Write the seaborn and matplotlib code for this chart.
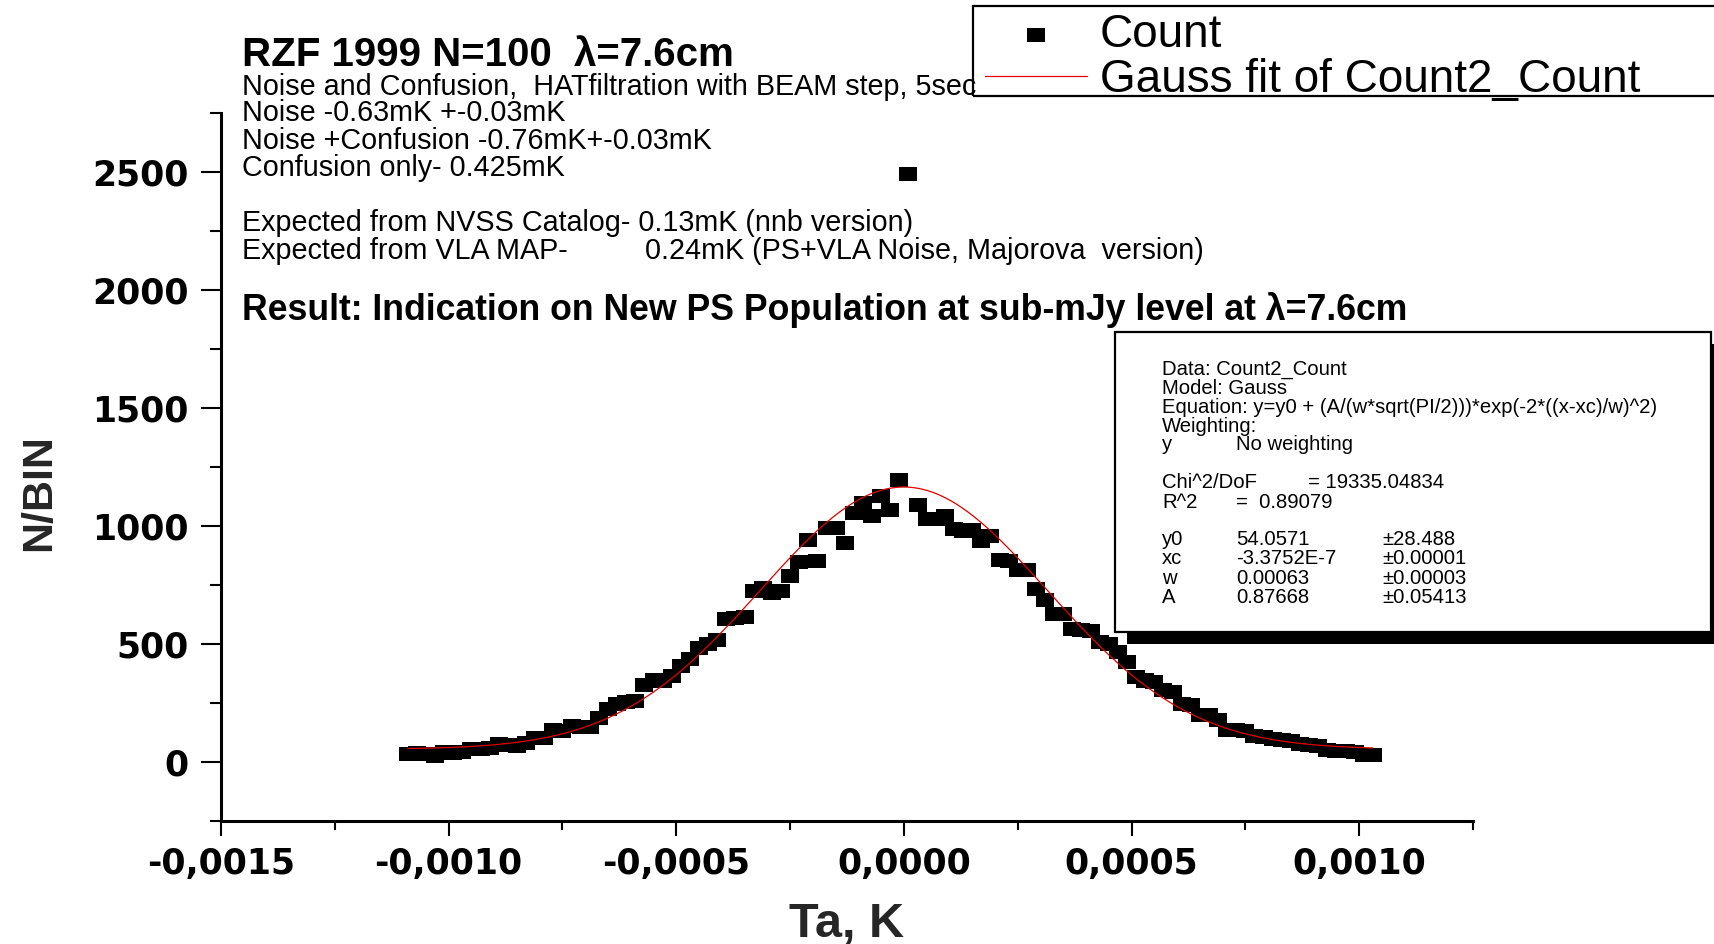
import numpy as np
import pandas as pd
import matplotlib
matplotlib.use("Agg")
import matplotlib.pyplot as plt
import seaborn as sns
from matplotlib.patches import Rectangle
from matplotlib.path import Path
from matplotlib.ticker import MultipleLocator, FuncFormatter

W, H = 1714, 944

# ---- data (bin centres in units of 1e-5 K, counts per bin) ----
ta_1e5 = [-109, -107, -105, -103, -101, -99, -97, -95, -93, -91, -89, -87, -85, -83,
          -81, -79, -77, -75, -73, -71, -69, -67, -65, -63, -61, -59, -57, -55, -53,
          -51, -49, -47, -45, -43, -41, -39, -37, -35, -33, -31, -29, -27, -25, -23,
          -21, -19, -17, -15, -13, -11, -9, -7, -5, -3, -1, 1, 3, 5, 7, 9, 11, 13, 15,
          17, 19, 21, 23, 25, 27, 29, 31, 33, 35, 37, 39, 41, 43, 45, 47, 49, 51, 53,
          55, 57, 59, 61, 63, 65, 67, 69, 71, 73, 75, 77, 79, 81, 83, 85, 87, 89, 91,
          93, 95, 97, 99, 101, 103]
counts = [34, 36, 33, 25, 41, 40, 44, 53, 55, 58, 74, 70, 68, 80, 102, 100, 136, 130,
          152, 150, 148, 186, 225, 244, 256, 260, 328, 345, 345, 366, 406, 434, 482, 498,
          515, 606, 610, 614, 722, 738, 715, 724, 786, 847, 939, 850, 992, 992, 928, 1055,
          1097, 1040, 1125, 1067, 1196, 2490, 1089, 1030, 1030, 1041, 985, 980, 982, 935,
          958, 854, 850, 811, 811, 733, 684, 628, 628, 564, 560, 555, 508, 500, 465, 423,
          360, 345, 340, 303, 295, 246, 240, 201, 198, 176, 136, 134, 130, 112, 106, 98,
          94, 90, 77, 72, 66, 49, 47, 45, 44, 28, 28]

# Gauss fit parameters (as printed in the chart)
fit_y0 = 54.0571
fit_xc = -3.3752e-7
fit_w = 0.00063
fit_A = 0.87668

sns.set_theme(style="ticks")
plt.rcParams['font.family'] = ['Liberation Sans', 'DejaVu Sans']

fig = plt.figure(figsize=(W / 100, H / 100), dpi=100)
ax = fig.add_axes([221 / W, 1 - 821 / H, (1473 - 221) / W, (821 - 112.6) / H])

df = pd.DataFrame({"Ta": np.array(ta_1e5) * 1e-5, "N": counts})
rect = Path([(-9, -7), (9, -7), (9, 7), (-9, 7), (-9, -7)],
            [Path.MOVETO, Path.LINETO, Path.LINETO, Path.LINETO, Path.CLOSEPOLY])
sns.scatterplot(data=df, x="Ta", y="N", marker=rect, s=168, color="black",
                edgecolor="none", linewidth=0, ax=ax, label="Count", zorder=2)

xf = np.linspace(df["Ta"].min(), df["Ta"].max(), 500)
yf = fit_y0 + fit_A / (fit_w * np.sqrt(np.pi / 2)) * np.exp(-2 * ((xf - fit_xc) / fit_w) ** 2)
sns.lineplot(x=xf, y=yf, color="#e00000", linewidth=0.9, ax=ax,
             label="Gauss fit of Count2_Count", zorder=3)

ax.set_xlim(-0.0015, 0.00125)
ax.set_ylim(-250, 2750)
ax.xaxis.set_major_locator(MultipleLocator(0.0005))
ax.xaxis.set_minor_locator(MultipleLocator(0.00025))
ax.yaxis.set_major_locator(MultipleLocator(500))
ax.yaxis.set_minor_locator(MultipleLocator(250))


def xfmt(v, p):
    if abs(v) < 1e-12:
        v = 0.0
    return f"{v:.4f}".replace(".", ",")


ax.xaxis.set_major_formatter(FuncFormatter(xfmt))
ax.yaxis.set_major_formatter(FuncFormatter(lambda v, p: f"{int(round(v))}"))

for side in ["top", "right"]:
    ax.spines[side].set_visible(False)
for side in ["left", "bottom"]:
    ax.spines[side].set_linewidth(2.2)
    ax.spines[side].set_color("black")

ax.tick_params(axis="x", which="major", length=10.8, width=1.5, direction="out",
               labelsize=25, pad=7.6, colors="black")
ax.tick_params(axis="x", which="minor", length=6.5, width=1.5, direction="out", colors="black")
ax.tick_params(axis="y", which="major", length=14.4, width=1.5, direction="out",
               labelsize=25, pad=9, colors="black")
ax.tick_params(axis="y", which="minor", length=8, width=1.5, direction="out", colors="black")
for lab in ax.get_xticklabels() + ax.get_yticklabels():
    lab.set_fontfamily("DejaVu Sans")
    lab.set_fontweight("bold")

ax.set_xlabel("Ta, K", fontsize=35, fontweight="bold")
ax.set_ylabel("N/BIN", fontsize=31, fontweight="bold")
ax.xaxis.label.set_va("baseline")
ax.yaxis.label.set_va("center")
ax.xaxis.set_label_coords((847 - 221) / (1473 - 221), (821 - 937) / (821 - 112.6))
ax.yaxis.set_label_coords((39 - 221) / (1473 - 221), (821 - 493) / (821 - 112.6))

# legend
handles, labels = ax.get_legend_handles_labels()
if ax.get_legend() is not None:
    ax.get_legend().remove()
leg = fig.legend(handles, labels, loc="upper left", bbox_to_anchor=(985 / W, 1 - 13 / H),
                 bbox_transform=fig.transFigure, frameon=False, fontsize=33,
                 borderaxespad=0, borderpad=0, handlelength=2.23, handletextpad=0.27,
                 labelspacing=0.03, markerscale=1.0)
for t in leg.get_texts():
    t.set_color("black")
fig.add_artist(Rectangle((973 / W, 1 - 96 / H), (1730 - 973) / W, (96 - 5.5) / H,
                         transform=fig.transFigure, fill=False, edgecolor="black",
                         linewidth=1.6, zorder=4))


def ftext(x, y, s, **kw):
    kw.setdefault("va", "baseline")
    kw.setdefault("ha", "left")
    fig.text(x / W, 1 - y / H, s, color="black", **kw)


# annotations
ftext(241.6, 66.5, "RZF 1999 N=100  λ=7.6cm", fontsize=29, fontweight="bold")
ftext(241.6, 95, "Noise and Confusion,  HATfiltration with BEAM step, 5sec", fontsize=20.7)
ftext(241.6, 121.2, "Noise -0.63mK +-0.03mK", fontsize=20.7)
ftext(241.6, 148.6, "Noise +Confusion -0.76mK+-0.03mK", fontsize=20.7)
ftext(241.6, 176.5, "Confusion only- 0.425mK", fontsize=20.7)
ftext(241.6, 231, "Expected from NVSS Catalog- 0.13mK (nnb version)", fontsize=20.7)
ftext(241.6, 258.5, "Expected from VLA MAP-", fontsize=20.7)
ftext(645, 258.5, "0.24mK (PS+VLA Noise, Majorova  version)", fontsize=20.7)
ftext(241.6, 320.5, "Result: Indication on New PS Population at sub-mJy level at λ=7.6cm",
      fontsize=25.7, fontweight="bold")

# fit statistics box
fig.add_artist(Rectangle((1127 / W, 1 - 644 / H), (1730 - 1127) / W, (644 - 344) / H,
                         transform=fig.transFigure, facecolor="black", edgecolor="black",
                         linewidth=0, zorder=4))
fig.add_artist(Rectangle((1115 / W, 1 - 632 / H), (1711 - 1115) / W, (632 - 332) / H,
                         transform=fig.transFigure, facecolor="white", edgecolor="black",
                         linewidth=1.6, zorder=5))

fs = 14.6
stats_rows = [
    (374.5, [(1162, "Data: Count2_Count")]),
    (393.5, [(1162, "Model: Gauss")]),
    (413, [(1162, "Equation: y=y0 + (A/(w*sqrt(PI/2)))*exp(-2*((x-xc)/w)^2)")]),
    (431.5, [(1162, "Weighting:")]),
    (450, [(1162, "y"), (1236, "No weighting")]),
    (488.5, [(1162, "Chi^2/DoF"), (1308, "= 19335.04834")]),
    (508, [(1162, "R^2"), (1236, "=  0.89079")]),
    (545, [(1162, "y0"), (1236, "54.0571"), (1382, "±28.488")]),
    (564.5, [(1162, "xc"), (1236, "-3.3752E-7"), (1382, "±0.00001")]),
    (583.5, [(1162, "w"), (1236, "0.00063"), (1382, "±0.00003")]),
    (603, [(1162, "A"), (1236, "0.87668"), (1382, "±0.05413")]),
]
for yb, cols in stats_rows:
    for xb, s in cols:
        fig.text(xb / W, 1 - yb / H, s, fontsize=fs, va="baseline", ha="left",
                 color="black", zorder=6)

fig.savefig("out.png", dpi=100, facecolor="white")
